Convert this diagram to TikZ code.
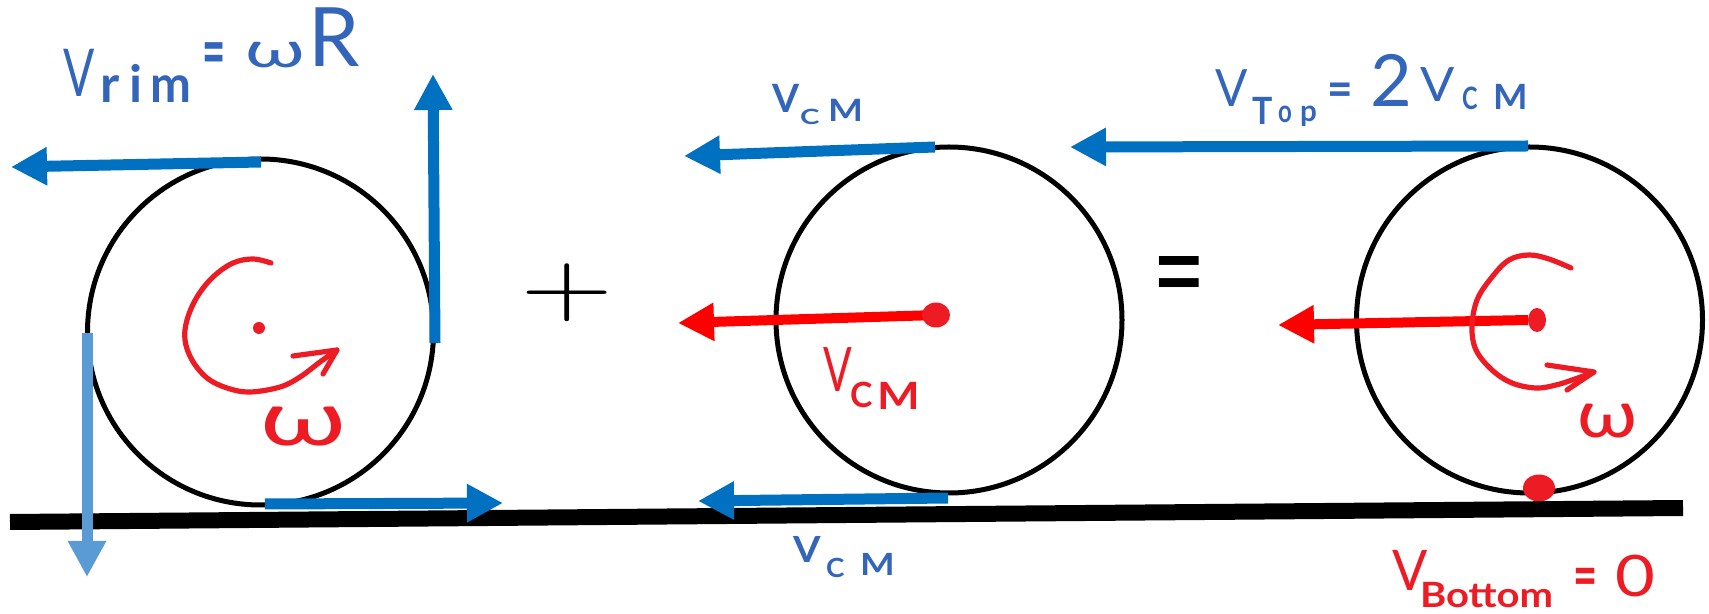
\documentclass[tikz,border=0pt]{standalone}
\usepackage{fontspec}
\setmainfont{Lato}
\usepackage{graphicx}
\usetikzlibrary{arrows.meta,shapes.geometric}
\definecolor{vblue}{HTML}{0070C0}
\definecolor{lblue}{HTML}{5B9BD5}
\definecolor{inkblue}{HTML}{3366BB}
\definecolor{inkred}{HTML}{ED1C24}
\definecolor{vred}{HTML}{FF0000}
\newcommand\fs[1]{\fontsize{#1}{#1}\selectfont}
\newcommand\gl[6]{\makebox[0pt][l]{\hspace*{#1pt}\raisebox{#2pt}{\scalebox{#4}[#5]{\fs{#3}#6}}}}
\newcommand\glb[6]{\makebox[0pt][l]{\hspace*{#1pt}\raisebox{#2pt}{\scalebox{#4}[#5]{\bfseries\fs{#3}#6}}}}
\tikzset{
  wheel/.style={circle, draw=black, line width=2.5pt, minimum size=173pt, inner sep=0pt},
  varrow/.style={draw=vblue, line width=5.5pt, -{Triangle[length=18pt,width=18pt]}},
  larrow/.style={varrow, draw=lblue},
  rarrow/.style={draw=vred, line width=5pt, -{Triangle[length=18pt,width=18pt]}},
  spin/.style={draw=inkred, line width=2.6pt, line cap=round, line join=round},
  hand/.style={inner sep=0pt, outer sep=0pt, anchor=base west},
  sym/.style={inner sep=0pt, outer sep=0pt, anchor=center, text=black},
  ground/.style={draw=black, line width=8pt},
  rdot/.style={ellipse, fill=inkred, inner sep=0pt},
}
\begin{document}
\begin{tikzpicture}[x=0.5pt,y=-0.5pt]
\useasboundingbox (0,0) rectangle (1709,614);
% ground
\coordinate (g1) at (10,522);
\coordinate (g2) at (1683,508);
\draw[ground] (g1) -- (g2);
% wheels
\node[wheel] (w1) at (260.5,332) {};
\node[wheel] (w2) at (949,320) {};
\node[wheel] (w3) at (1529.5,320) {};
% wheel 1 rim velocities
\coordinate (a1s) at (261,162); \coordinate (a1e) at (11,167);
\coordinate (a2s) at (435,343); \coordinate (a2e) at (433,74);
\coordinate (a3s) at (265,504); \coordinate (a3e) at (503,503);
\coordinate (a4s) at (87,333);  \coordinate (a4e) at (87,577);
\draw[varrow] (a1s) -- (a1e);
\draw[varrow] (a2s) -- (a2e);
\draw[varrow] (a3s) -- (a3e);
\draw[larrow] (a4s) -- (a4e);
\node[rdot, minimum width=6pt, minimum height=6pt] (d1) at (259,328) {};
\draw[spin] plot[smooth, tension=0.6] coordinates {(271,263) (253,259) (233,263) (213,277) (197,297) (187,320) (185,340) (192,360) (207,378) (227,388) (250,392) (280,387) (300,377) (320,362) (337,350)};
\coordinate (s1t) at (337,350);
\coordinate (s1a) at (293,356);
\coordinate (s1b) at (323,374);
\draw[spin] (s1a) -- (s1t) -- (s1b);
\node[sym, text=inkred] (om1) at (303,427) {\scalebox{1.48}[1]{\fs{38}ω}};
% wheel 2 translation
\coordinate (b1s) at (935,147); \coordinate (b1e) at (684,156);
\coordinate (b2s) at (948,498); \coordinate (b2e) at (698,501);
\draw[varrow] (b1s) -- (b1e);
\draw[varrow] (b2s) -- (b2e);
\coordinate (r2e) at (678,323);
\draw[rarrow] (937,315) -- (r2e);
\node[rdot, minimum width=14pt, minimum height=12.5pt] (d2) at (936,315) {};
% wheel 3 rolling
\coordinate (c1s) at (1528,146); \coordinate (c1e) at (1070,147);
\draw[varrow] (c1s) -- (c1e);
\coordinate (r3s) at (1528,320); \coordinate (r3e) at (1278,325);
\draw[rarrow] (r3s) -- (r3e);
\node[rdot, minimum width=9pt, minimum height=12pt] (d3) at (1537,320) {};
\node[rdot, minimum width=16pt, minimum height=13.5pt] (d4) at (1539,488) {};
\draw[spin] plot[smooth, tension=0.6] coordinates {(1571,268) (1549,259) (1529,255) (1509,260) (1492,277) (1477,300) (1472,327) (1476,350) (1492,370) (1512,383) (1536,388) (1556,385) (1575,379) (1594,372)};
\coordinate (s3t) at (1594,372);
\coordinate (s3a) at (1547,365);
\coordinate (s3b) at (1567,390);
\draw[spin] (s3a) -- (s3t) -- (s3b);
\node[sym, text=inkred] (om3) at (1607,421) {\scalebox{1.19}[1]{\fs{33}ω}};
% operators
\node[sym] (plus) at (567,293) {\scalebox{6}[4.35]{$+$}};
\node[sym] (eq) at (1179,287) {\scalebox{1.05}[1.5]{\fs{44}=}};
% labels
\node[hand, text=inkblue] (lrim) at (63,97) {\gl{0}{0}{33}{0.7}{1}{V}\glb{18.5}{-3}{25.7}{1}{1}{r}\glb{33}{-3}{25.7}{1}{1}{i}\glb{43.5}{-3}{25.7}{0.95}{1}{m}\glb{70}{10.3}{20}{1}{1.8}{=}\gl{91}{14.5}{30}{1.3}{0.83}{ω}\gl{123}{15}{41}{1}{1}{R}\hspace*{150pt}};
\node[hand, text=inkblue] (lcmtop) at (772,113) {\glb{0}{0}{19.5}{1}{1}{V}\glb{14}{-6}{10.5}{1.4}{1}{C}\glb{28}{-4.5}{15.4}{1.2}{1}{M}\hspace*{46.5pt}};
\node[hand, text=inkblue] (lcmbot) at (793,563) {\glb{0}{0}{18}{1.1}{1}{V}\glb{16.5}{-7}{13.2}{1.05}{1}{C}\glb{33.5}{-6}{15.3}{1.2}{1}{M}\hspace*{52pt}};
\node[hand, text=inkblue] (ltop) at (1215,107) {\gl{0}{0}{25.7}{0.93}{1}{V}\glb{18.5}{-9}{18.8}{0.9}{1}{T}\glb{31.5}{-8}{15.8}{0.76}{1}{o}\glb{42.5}{-7.5}{14.8}{1}{1}{p}\glb{56}{0}{20}{1.1}{1.25}{=}\gl{77.5}{0}{36}{1}{1}{2}\gl{102.5}{2.5}{23.7}{1.07}{1}{V}\glb{123.5}{-1.5}{15.4}{0.76}{1}{C}\glb{139}{-1.5}{17.4}{1.05}{1}{M}\hspace*{156.5pt}};
\node[hand, text=inkred] (lcmred) at (823,392) {\gl{0}{0}{30.7}{0.69}{1}{V}\glb{13.5}{-8}{17.4}{0.97}{1}{C}\glb{27}{-9}{18.8}{1.2}{1}{M}\hspace*{48.5pt}};
\node[hand, text=inkred] (lbot) at (1392,590) {\gl{0}{0}{28}{0.93}{1}{V}\glb{14}{-8.5}{17.4}{1.15}{1}{Bottom}\glb{90.5}{-3}{20}{1.04}{1.5}{=}\gl{111.5}{-3}{28.6}{1.2}{1}{0}\hspace*{130.5pt}};
\end{tikzpicture}
\end{document}
